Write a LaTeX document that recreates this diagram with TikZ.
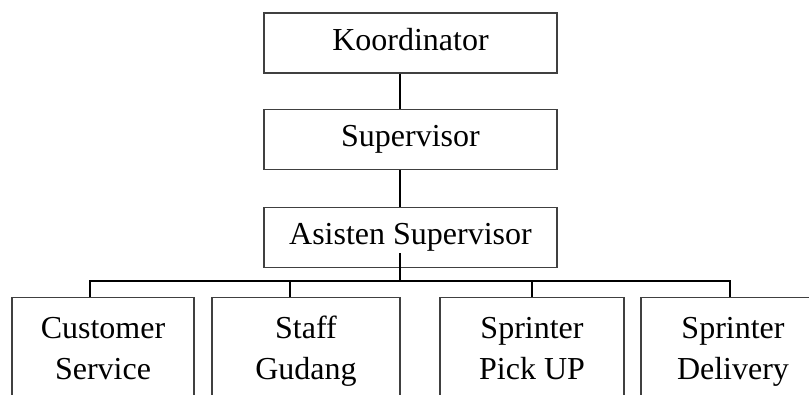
\documentclass[tikz,border=0pt]{standalone}
\usepackage{fontspec}
\setmainfont{Liberation Serif}
\usetikzlibrary{positioning,calc}
\tikzset{
  block/.style={draw=black!75,line width=1.2pt,rectangle,minimum width=293pt,inner sep=0pt,
    text height=37pt,text depth=23pt,font=\fontsize{32}{38}\selectfont},
  leaf/.style={draw=black!75,line width=1.2pt,rectangle,anchor=north,minimum height=106pt,
    inner xsep=0pt,align=center,font=\fontsize{32}{41}\selectfont},
  conn/.style={line width=1.6pt,black}
}

\begin{document}
\begin{tikzpicture}[x=1pt,y=-1pt]
  \useasboundingbox (0,0) rectangle (809,394);
  \clip (0,0) rectangle (809,394);
  \node[block] (kd) at (410.5,43) {Koordinator};
  \node[block,below=35pt of kd] (spv) {Supervisor};
  \node[block,below=37pt of spv] (ast) {Asisten Supervisor};
  \node[leaf,minimum width=182pt] (cs) at (103,297) {\strut Customer\\\strut Service};
  \node[leaf,minimum width=188pt] (sg) at (306,297) {\strut Staff\\\strut Gudang};
  \node[leaf,minimum width=184pt] (pu) at (532,297) {\strut Sprinter\\\strut Pick UP};
  \node[leaf,minimum width=184pt] (dl) at (733,297) {\strut Sprinter\\\strut Delivery};
  \coordinate (bus) at (400,281);
  \draw[conn] ([xshift=-10.5pt]kd.south) -- ([xshift=-10.5pt]spv.north);
  \draw[conn] ([xshift=-10.5pt]spv.south) -- ([xshift=-10.5pt]ast.north);
  \draw[conn] ([xshift=-10.5pt,yshift=15pt]ast.south) -- (bus);
  \draw[conn] ([xshift=-13pt]cs.north) |- (bus) -| ([xshift=-3pt]dl.north);
  \draw[conn] ([xshift=-16pt]sg.north) -- ([xshift=-16pt]sg.north |- bus);
  \draw[conn] (pu.north) -- (pu.north |- bus);
\end{tikzpicture}
\end{document}
